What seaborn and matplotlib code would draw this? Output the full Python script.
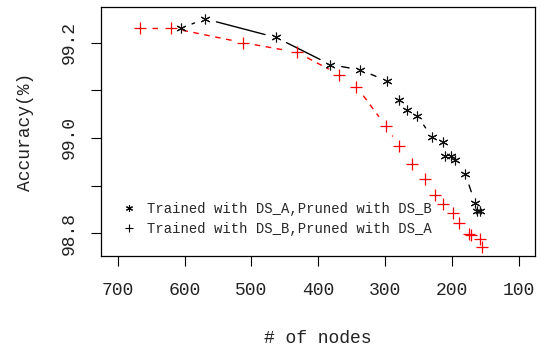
import numpy as np
import pandas as pd
import matplotlib
matplotlib.use("Agg")
import matplotlib.pyplot as plt
import seaborn as sns

# Trained with DS_A, pruned with DS_B
nodes_a = [605, 569, 463, 382, 337, 298, 280, 268, 252, 230, 214, 210, 202, 196, 180, 166, 162, 158]
acc_a = [99.231, 99.250, 99.211, 99.154, 99.143, 99.120, 99.080, 99.059, 99.047, 99.001,
         98.992, 98.963, 98.961, 98.954, 98.924, 98.864, 98.847, 98.847]

# Trained with DS_B, pruned with DS_A
nodes_b = [666, 620, 512, 432, 369, 343, 299, 279, 260, 240, 225, 213, 199, 189, 175, 172, 158, 155]
acc_b = [99.231, 99.231, 99.200, 99.180, 99.133, 99.108, 99.025, 98.983, 98.946, 98.913,
         98.880, 98.862, 98.842, 98.822, 98.799, 98.797, 98.787, 98.771]

label_a = "Trained with DS_A,Pruned with DS_B"
label_b = "Trained with DS_B,Pruned with DS_A"

df_a = pd.DataFrame({"nodes": nodes_a, "acc": acc_a})
df_b = pd.DataFrame({"nodes": nodes_b, "acc": acc_b})

sns.set_style("ticks")
plt.rcParams["font.family"] = ["Liberation Mono", "DejaVu Sans Mono"]

fig = plt.figure(figsize=(5.41, 3.51), dpi=100)
ax = fig.add_axes([0.1867, 0.2707, 0.8022, 0.7093])
ax.set_xlim(725, 76)
ax.set_ylim(98.752, 99.275)


def gapped_line(ax, x, y, gap=11.5, **kw):
    # connect points but leave a gap around each one (like R type="b")
    pts = ax.transData.transform(np.column_stack([x, y]))
    inv = ax.transData.inverted()
    for p0, p1 in zip(pts[:-1], pts[1:]):
        d = p1 - p0
        L = np.hypot(*d)
        if L <= 2 * gap:
            continue
        u = d / L
        seg = inv.transform(np.array([p0 + u * gap, p1 - u * gap]))
        ax.plot(seg[:, 0], seg[:, 1], **kw)


gapped_line(ax, nodes_a, acc_a, color="black", lw=1)
gapped_line(ax, nodes_b, acc_b, color="red", lw=1, linestyle=(0, (4, 4)))

ax.plot(df_a["nodes"], df_a["acc"], ls="none", marker=(6, 2, 0), ms=7, mew=0.8,
        color="#111111", zorder=5)
ax.plot(df_b["nodes"], df_b["acc"], ls="none", marker="+", ms=9, mew=0.9,
        color="red", zorder=5)

ax.set_xticks([700, 600, 500, 400, 300, 200, 100])
ax.set_yticks([98.8, 98.9, 99.0, 99.1, 99.2])
ax.set_yticklabels(["98.8", "", "99.0", "", "99.2"], rotation=90, va="center")

ax.tick_params(axis="both", length=7, width=0.8, color="black", labelsize=13, labelcolor="#222222")
ax.tick_params(axis="x", pad=12)
ax.tick_params(axis="y", pad=10)
for s in ax.spines.values():
    s.set_visible(True)
    s.set_color("black")
    s.set_linewidth(0.9)

ax.set_xlabel("# of nodes", fontsize=13, labelpad=22, color="#222222")
ax.set_ylabel("Accuracy(%)", fontsize=13, labelpad=19, color="#222222")

h1 = plt.Line2D([], [], ls="none", marker=(6, 2, 0), ms=5, mew=0.8, color="black")
h2 = plt.Line2D([], [], ls="none", marker="+", ms=6, mew=0.8, color="black")
ax.legend([h1, h2], [label_a, label_b], loc="lower left", frameon=False,
          fontsize=10, handlelength=1, handletextpad=0.8, labelspacing=0.45,
          bbox_to_anchor=(0.02, 0.03))

fig.savefig("out.png", dpi=100)
